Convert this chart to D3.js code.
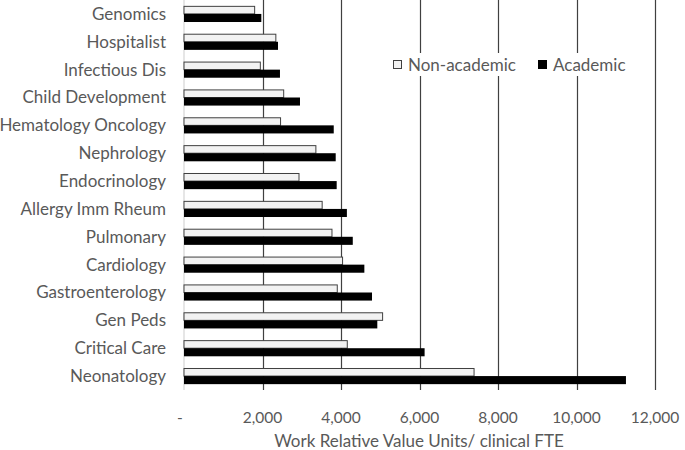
<!DOCTYPE html>
<html>
<head>
<meta charset="utf-8">
<script src="https://cdn.jsdelivr.net/npm/d3@7"></script>
<style>
  body { margin: 0; background: #fff; }
  text { font-family: Lato, "Open Sans", sans-serif; fill: #595959; }
</style>
</head>
<body>
<script>
'use strict';

const specialties = ["Genomics", "Hospitalist", "Infectious Dis", "Child Development",
  "Hematology Oncology", "Nephrology", "Endocrinology", "Allergy Imm Rheum",
  "Pulmonary", "Cardiology", "Gastroenterology", "Gen Peds", "Critical Care", "Neonatology"]
const nonAcademic = [1800, 2340, 1945, 2540, 2460, 3360, 2930, 3520, 3770, 4040, 3905, 5060, 4160, 7390]
const academic = [1970, 2395, 2445, 2955, 3815, 3865, 3890, 4150, 4300, 4595, 4790, 4925, 6130, 11260]
const xTicks = [0, 2000, 4000, 6000, 8000, 10000, 12000]
const seriesNames = ["Non-academic", "Academic"]

const m = { width: 685, height: 450, left: 184, right: 655, top: 0, bottom: 390 }

const svg = d3.select('body')
  .append('svg')
  .attr('width', m.width)
  .attr('height', m.height)

let xScale = d3.scaleLinear()
  .domain([0, 12000])
  .range([m.left, m.right])

let yScale = d3.scaleBand()
  .domain(specialties)
  .range([m.top, m.bottom])
  .paddingInner(0.42)
  .paddingOuter(0.21)

let inner = d3.scaleBand()
  .domain(seriesNames)
  .range([0, yScale.bandwidth()])

// gridlines
svg.append('g')
  .selectAll('line')
  .data(xTicks.slice(1))
  .enter().append('line')
    .attr('x1', (d) => Math.round(xScale(d)) + 0.5)
    .attr('x2', (d) => Math.round(xScale(d)) + 0.5)
    .attr('y1', m.top)
    .attr('y2', m.bottom)
    .style('stroke', '#404040')
    .style('stroke-width', 1.2)

// left axis line
svg.append('line')
  .attr('x1', m.left).attr('x2', m.left)
  .attr('y1', m.top).attr('y2', m.bottom)
  .style('stroke', '#d9d9d9')
  .style('stroke-width', 1.3)

// bars
let groups = svg.append('g')
  .selectAll('g')
  .data(specialties)
  .enter().append('g')
    .attr('transform', (d) => 'translate(0,' + yScale(d) + ')')

groups.append('rect')
  .attr('x', xScale(0))
  .attr('y', inner("Non-academic") + 0.5)
  .attr('width', (d, i) => xScale(nonAcademic[i]) - xScale(0))
  .attr('height', inner.bandwidth() - 0.5)
  .style('fill', '#f2f2f2')
  .style('stroke', '#404040')
  .style('stroke-width', 1)

groups.append('rect')
  .attr('x', xScale(0))
  .attr('y', inner("Academic"))
  .attr('width', (d, i) => xScale(academic[i]) - xScale(0))
  .attr('height', inner.bandwidth())
  .style('fill', '#000')

// category labels
svg.append('g')
  .selectAll('text')
  .data(specialties)
  .enter().append('text')
    .attr('x', 166)
    .attr('y', (d) => yScale(d) + yScale.bandwidth() / 2)
    .attr('dy', '0.35em')
    .attr('text-anchor', 'end')
    .style('font-size', '17px')
    .text((d) => d)

// x tick labels
svg.append('g')
  .selectAll('text')
  .data(xTicks)
  .enter().append('text')
    .attr('x', (d) => d === 0 ? xScale(d) - 4 : xScale(d))
    .attr('y', 418)
    .attr('dy', '0.35em')
    .attr('text-anchor', 'middle')
    .style('font-size', '15.5px')
    .text((d) => d === 0 ? '-' : d3.format(',')(d))

svg.append('text')
  .attr('x', 419)
  .attr('y', 441)
  .attr('dy', '0.35em')
  .attr('text-anchor', 'middle')
  .style('font-size', '17px')
  .text('Work Relative Value Units/ clinical FTE')

// legend
let legend = svg.append('g')
legend.append('rect')
  .attr('x', 386).attr('y', 53).attr('width', 250).attr('height', 23)
  .style('fill', '#fff')

let legendX = [393, 538]
let legendItems = legend.selectAll('g.item')
  .data(seriesNames)
  .enter().append('g')
    .attr('class', 'item')
    .attr('transform', (d, i) => 'translate(' + legendX[i] + ',60)')

legendItems.append('rect')
  .attr('x', 0.5).attr('y', 0.5).attr('width', 8).attr('height', 8)
  .style('fill', (d, i) => i === 0 ? '#f2f2f2' : '#000')
  .style('stroke', (d, i) => i === 0 ? '#404040' : '#000')

legendItems.append('text')
  .attr('x', 15)
  .attr('y', 5)
  .attr('dy', '0.35em')
  .style('font-size', '17px')
  .text((d) => d)
</script>
</body>
</html>
